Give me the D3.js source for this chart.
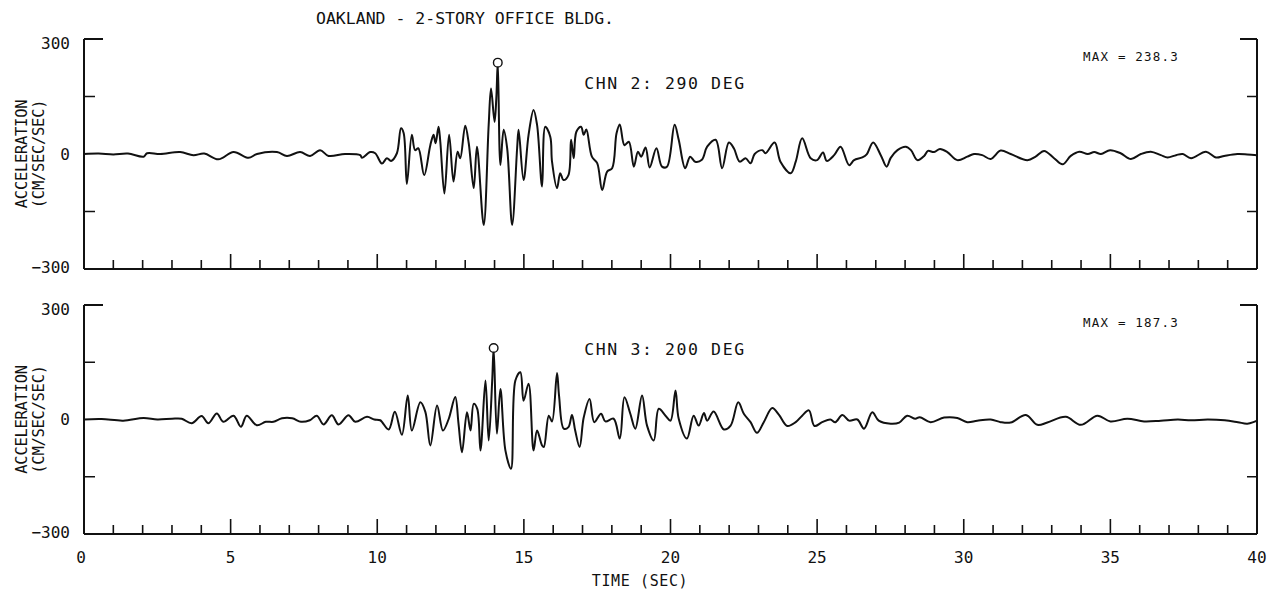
<!DOCTYPE html>
<html>
<head>
<meta charset="utf-8">
<script src="https://cdn.jsdelivr.net/npm/d3@7"></script>
<style>
  html, body { margin: 0; padding: 0; background: #fff; }
  svg { display: block; }
  text { font-family: "DejaVu Sans Mono", monospace; fill: #111; }
</style>
</head>
<body>
<svg id="chart" width="1273" height="597"></svg>
<script>
// ---------------- DATA ----------------
const title = "OAKLAND - 2-STORY OFFICE BLDG.";
const channelLabels = ["CHN 2: 290 DEG", "CHN 3: 200 DEG"];
const maxLabels = ["MAX = 238.3", "MAX = 187.3"];
const peakTimes = [14.11, 13.97];
const peakValues = [238.3, 187.3];
const xTickLabels = [0, 5, 10, 15, 20, 25, 30, 35, 40];
const yTickLabels = [-300, 0, 300];
const yLabelLines = ["ACCELERATION", "(CM/SEC/SEC)"];
const xLabel = "TIME (SEC)";

const timeCh2 = [0,0.5,1.0,1.5,2.03,2.15,2.6,3.28,3.73,4.1,4.58,5.1,5.61,5.9,6.58,6.92,7.37,7.71,8.05,8.34,8.9,9.42,9.48,9.76,9.93,
  10.16,10.33,10.47,10.67,10.81,10.9,11.01,11.18,11.29,11.4,11.6,11.81,11.92,11.99,12.09,12.15,12.29,12.45,12.6,12.74,12.83,13.0,13.12,13.29,13.4,13.63,13.8,13.88,14.0,14.06,14.11,14.2,14.31,14.43,14.6,14.77,14.82,14.99,
  15.16,15.33,15.45,15.62,15.73,15.9,15.96,16.13,16.24,16.35,16.52,16.61,16.7,16.79,16.95,17.04,17.13,17.32,17.5,17.67,17.84,18.01,18.16,18.27,18.43,18.58,18.75,18.89,19.0,19.15,19.29,19.52,19.71,19.88,
  20.14,20.28,20.5,20.67,20.84,21.07,21.25,21.54,21.76,21.99,22.16,22.36,22.56,22.73,22.87,23.13,23.24,23.55,23.75,24.1,24.27,24.49,24.78,25.0,25.2,25.33,25.58,25.8,26.09,26.26,26.54,26.69,26.91,27.17,27.37,27.51,27.74,28.02,28.2,28.42,28.65,28.78,28.99,29.19,29.44,29.78,
  30.12,30.35,30.63,30.92,31.26,31.6,32.17,32.45,32.74,33.08,33.37,33.65,33.94,34.23,34.45,34.68,34.99,35.35,35.7,36.04,36.38,36.72,36.95,37.24,37.47,37.75,38.26,38.6,38.88,39.33,39.67,40.0];
const accCh2 = [0,1,-1,1,-7,2,0,5,-3,1,-14,5,-10,0,5,-5,5,-5,10,-5,0,-3,-10,5,2,
  -25,-11,-18,2,67,55,-78,50,10,15,-55,23,50,28,71,32,-103,50,-72,6,-11,74,28,-89,19,-185,76,171,84,145,238,-29,63,15,-185,15,63,-68,
  50,115,76,-85,71,45,-20,-89,-50,-68,-55,37,-11,58,71,50,64,-7,-24,-94,-46,-37,54,77,23,32,-33,6,-7,17,-35,15,-33,-33,
  76,37,-37,-7,-20,-15,19,37,-37,30,15,-20,-11,-24,0,10,2,30,-20,-50,-20,41,-11,-16,4,-18,-3,19,-29,-16,-9,-1,30,-3,-33,-10,10,19,10,-16,-5,8,5,13,5,-16,
  -7,0,-3,-13,9,0,-16,-7,8,-11,-27,-5,6,0,5,0,10,2,-13,0,6,-3,-9,-3,0,-11,6,-9,-5,0,-1,-3];

const timeCh3 = [0,0.6,1.34,2.03,2.5,3.0,3.33,3.67,4.01,4.24,4.53,4.75,5.1,5.35,5.55,5.89,6.2,6.46,6.75,7.1,7.4,7.7,7.94,8.17,8.45,8.68,9.02,9.25,9.65,9.9,
  10.1,10.39,10.6,10.84,11.04,11.18,11.47,11.64,11.81,12.04,12.24,12.43,12.66,12.77,12.89,13.06,13.18,13.29,13.41,13.52,13.69,13.8,13.92,13.97,14.08,14.2,14.37,14.56,14.71,14.88,14.99,
  15.16,15.33,15.45,15.62,15.68,15.85,15.96,16.13,16.2,16.36,16.52,16.64,16.75,16.9,17.04,17.24,17.4,17.63,17.78,18.06,18.27,18.43,18.63,18.8,19.03,19.2,19.43,19.6,19.83,
  20.0,20.17,20.28,20.56,20.79,20.96,21.14,21.25,21.47,21.82,22.05,22.31,22.5,22.73,22.95,23.18,23.47,23.7,23.98,24.27,24.49,24.72,24.91,25.17,25.45,25.62,25.86,26.09,26.37,26.6,26.88,27.1,27.51,27.8,28.07,28.35,28.5,28.87,29.33,29.78,
  30.12,30.46,30.92,31.26,31.6,32.12,32.51,32.85,33.48,33.99,34.56,35.0,35.58,36.15,36.72,37.3,37.75,38.32,38.9,39.35,39.67,40.0];
const accCh3 = [0,1,-3,4,0,2,2,-10,9,-10,16,-6,10,-19,10,-15,-6,-6,3,3,-6,-2,10,-13,11,-13,11,-6,7,0,
  -2,-26,20,-40,63,-29,45,20,-68,37,-29,0,59,-10,-86,19,-29,41,28,-81,102,-55,102,187,-37,80,-81,-129,102,124,49,
  94,-81,-29,-68,-72,10,-5,122,62,-24,-20,12,-29,-72,5,54,-7,15,-5,2,-50,58,15,-24,63,-16,-55,28,10,
  -3,76,2,-50,10,-16,17,-3,21,-26,-16,45,15,-7,-35,-7,30,12,-17,-7,10,24,-17,-7,0,-7,12,-3,0,-24,19,-3,-11,-8,10,2,6,-7,5,4,
  -7,-3,0,-7,-8,12,-14,-8,7,-14,10,-5,2,-5,-3,0,-2,0,-2,-7,-11,-3];

const channels = [
  { time: timeCh2, acc: accCh2, top: 39, bottom: 269 },
  { time: timeCh3, acc: accCh3, top: 305, bottom: 534 }
];

// ---------------- DRAW ----------------
const svg = d3.select("#chart");
const x = d3.scaleLinear().domain([0, 40]).range([84, 1257]);

svg.append("text")
  .attr("x", 465).attr("y", 24)
  .attr("text-anchor", "middle")
  .style("font-size", "16.5px")
  .text(title);

channels.forEach((ch, i) => {
  const y = d3.scaleLinear().domain([-300, 300]).range([ch.bottom, ch.top]);
  const g = svg.append("g");

  const axisStyle = (sel) => sel.attr("stroke", "#111").attr("stroke-width", 2).attr("fill", "none");
  g.append("line").call(axisStyle).attr("x1", x(0)).attr("x2", x(0)).attr("y1", y(300)).attr("y2", y(-300));
  g.append("line").call(axisStyle).attr("x1", x(40)).attr("x2", x(40)).attr("y1", y(300)).attr("y2", y(-300));
  g.append("line").call(axisStyle).attr("x1", x(0)).attr("x2", x(40)).attr("y1", y(-300)).attr("y2", y(-300));
  g.append("line").call(axisStyle).attr("x1", x(0)).attr("x2", x(0) + 19).attr("y1", y(300)).attr("y2", y(300));
  g.append("line").call(axisStyle).attr("x1", x(40) - 17).attr("x2", x(40)).attr("y1", y(300)).attr("y2", y(300));

  [-150, 150].forEach(v => {
    g.append("line").call(axisStyle).attr("stroke-width", 1.5)
      .attr("x1", x(0)).attr("x2", x(0) + 11).attr("y1", y(v)).attr("y2", y(v));
    g.append("line").call(axisStyle).attr("stroke-width", 1.5)
      .attr("x1", x(40) - 10).attr("x2", x(40)).attr("y1", y(v)).attr("y2", y(v));
  });

  d3.range(1, 40).forEach(t => {
    const major = t % 5 === 0;
    g.append("line").call(axisStyle).attr("stroke-width", 1.6)
      .attr("x1", x(t)).attr("x2", x(t))
      .attr("y1", y(-300)).attr("y2", y(-300) - (major ? 15 : 9));
  });

  yTickLabels.forEach(v => {
    g.append("text")
      .attr("x", 70).attr("y", y(v) + (v === 300 ? 4 : (v === -300 ? -2 : 0)))
      .attr("dy", "0.36em")
      .attr("text-anchor", "end")
      .style("font-size", "16px")
      .text(v === -300 ? "\u2212300" : v);
  });

  const cy = y(0);
  yLabelLines.forEach((line, j) => {
    g.append("text")
      .attr("transform", `translate(${27 + j * 17},${cy}) rotate(-90)`)
      .attr("text-anchor", "middle")
      .style("font-size", "15.5px")
      .style("letter-spacing", "-0.3px")
      .text(line);
  });

  const pts = ch.time.map((t, k) => [t, ch.acc[k]]);
  const line = d3.line().x(d => x(d[0])).y(d => y(d[1])).curve(d3.curveCatmullRom.alpha(0.5));
  g.append("path").datum(pts)
    .attr("d", line)
    .attr("fill", "none")
    .attr("stroke", "#111")
    .attr("stroke-width", 2)
    .attr("stroke-linejoin", "round");

  g.append("circle")
    .attr("cx", x(peakTimes[i])).attr("cy", y(peakValues[i]))
    .attr("r", 4.3)
    .attr("fill", "#fff").attr("stroke", "#111").attr("stroke-width", 1.4);

  g.append("text")
    .attr("x", 665).attr("y", ch.top + 50)
    .attr("text-anchor", "middle")
    .style("font-size", "16.5px")
    .style("letter-spacing", "1.6px")
    .text(channelLabels[i]);

  g.append("text")
    .attr("x", 1131).attr("y", ch.top + 22)
    .attr("text-anchor", "middle")
    .style("font-size", "12.5px")
    .style("letter-spacing", "1.2px")
    .text(maxLabels[i]);

  if (i === 1) {
    xTickLabels.forEach(t => {
      g.append("text")
        .attr("x", x(t) - (t === 0 ? 3 : 0)).attr("y", 563)
        .attr("text-anchor", "middle")
        .style("font-size", "16px")
        .text(t);
    });
  }
});

svg.append("text")
  .attr("x", 640).attr("y", 586)
  .attr("text-anchor", "middle")
  .style("font-size", "15px")
  .style("letter-spacing", "0.6px")
  .text(xLabel);
</script>
</body>
</html>
